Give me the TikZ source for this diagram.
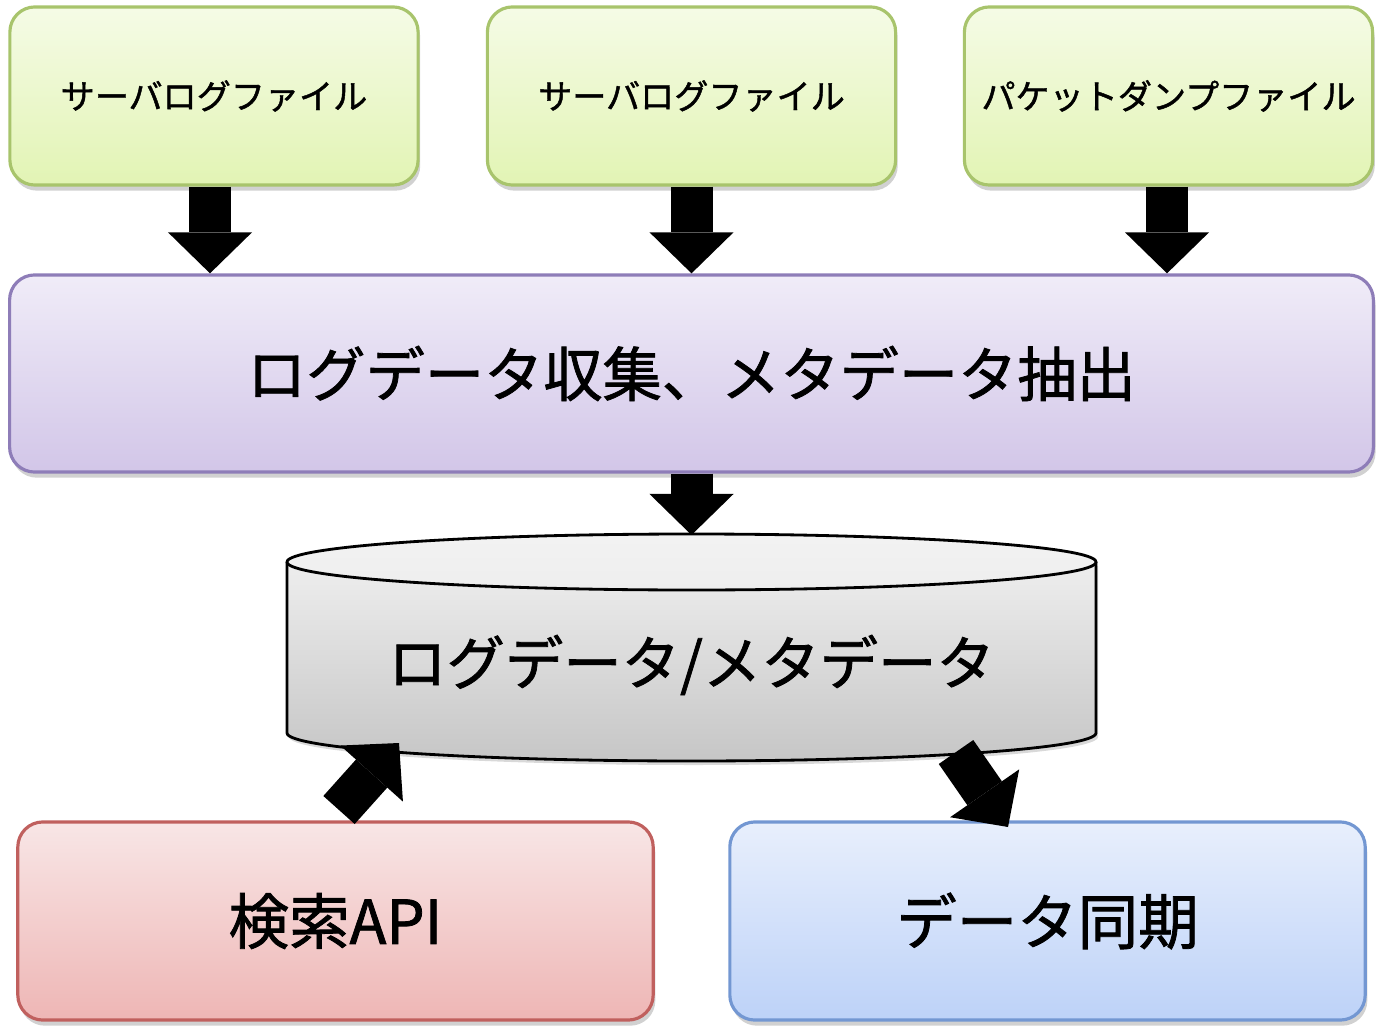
\documentclass[tikz,border=0pt]{standalone}
\usepackage{fontspec}
\newfontfamily\jp[FakeBold=1.3]{Noto Sans CJK JP}
\usetikzlibrary{arrows.meta,shadows,calc}
\definecolor{gTop}{HTML}{F5FBE6}
\definecolor{gBot}{HTML}{E2F4B4}
\definecolor{gLine}{HTML}{A8C46C}
\definecolor{pTop}{HTML}{F0ECF8}
\definecolor{pBot}{HTML}{D2C6E8}
\definecolor{pLine}{HTML}{8E7DB8}
\definecolor{rTop}{HTML}{F8E6E6}
\definecolor{rBot}{HTML}{EEB6B5}
\definecolor{rLine}{HTML}{C0605E}
\definecolor{bTop}{HTML}{E8EFFC}
\definecolor{bBot}{HTML}{BDD2F8}
\definecolor{bLine}{HTML}{7397D2}
\definecolor{cTop}{HTML}{EEEEEE}
\definecolor{cBot}{HTML}{C6C6C6}
\tikzset{
  box/.style={rounded corners=0.25cm, line width=0.9pt, inner sep=0pt,
    drop shadow={shadow xshift=0.6pt, shadow yshift=-1.6pt, opacity=0.18, fill=black},
    font=\jp},
  greenbox/.style={box, draw=gLine, top color=gTop, bottom color=gBot,
    minimum width=4.08cm, minimum height=1.78cm, font=\jp\fontsize{9.7}{11}\selectfont},
  bigarrow/.style={line width=0.42cm, line cap=butt, draw=black,
    -{Triangle[width=0.84cm,length=0.41cm,line width=0pt]}},
}
\begin{document}
\begin{tikzpicture}[x=0.01cm,y=0.01cm]
\useasboundingbox (0,0) rectangle (1383,-1031);
% top boxes
\node[greenbox] (g1) at (214,-96) {サーバログファイル};
\node[greenbox] (g2) at (691.5,-96) {サーバログファイル};
\node[greenbox] (g3) at (1168.5,-96) {パケットダンプファイル};
% purple box
\node[box, draw=pLine, top color=pTop, bottom color=pBot,
  minimum width=13.63cm, minimum height=1.97cm,
  font=\jp\fontsize{16.85}{20}\selectfont] (p) at (691.5,-373.5) {ログデータ収集、メタデータ抽出};
% bottom boxes
\node[box, draw=rLine, top color=rTop, bottom color=rBot,
  minimum width=6.35cm, minimum height=1.98cm,
  font=\jp\fontsize{17.2}{20}\selectfont] (api) at (335.5,-921) {検索API};
\node[box, draw=bLine, top color=bTop, bottom color=bBot,
  minimum width=6.35cm, minimum height=1.98cm,
  font=\jp\fontsize{17.2}{20}\selectfont] (sync) at (1047.5,-921) {データ同期};
% cylinder
\fill[black, opacity=0.15] (289,-566) -- (289,-737) arc[start angle=180,end angle=360,x radius=404.5,y radius=28] -- (1098,-566) -- cycle;
\fill[top color=cTop, bottom color=cBot] (287,-562) -- (287,-733)
  arc[start angle=180,end angle=360,x radius=404.5,y radius=28] -- (1096,-562) -- cycle;
\draw[line width=0.8pt] (287,-562) -- (287,-733)
  arc[start angle=180,end angle=360,x radius=404.5,y radius=28] -- (1096,-562);
\draw[line width=0.8pt, top color=white!95!black, bottom color=cTop] (691.5,-562) ellipse [x radius=404.5, y radius=28];
\coordinate (dbtop) at (691.5,-535);
\node[font=\jp\fontsize{16.6}{20}\selectfont, inner sep=0pt] (db) at (691.5,-665) {ログデータ/メタデータ};
% arrow end points
\coordinate (la1) at (339,-810);
\coordinate (la2) at (399,-743);
\coordinate (ra1) at (956,-752);
\coordinate (ra2) at (1008,-827);
% arrows
\draw[bigarrow] ($(g1.south)+(-4,0)$) -- ($(g1.south |- p.north)+(-4,0)$);
\draw[bigarrow] (g2.south) -- (g2.south |- p.north);
\draw[bigarrow] ($(g3.south)+(-1.5,0)$) -- ($(g3.south |- p.north)+(-1.5,0)$);
\draw[bigarrow] (p.south) -- (dbtop);
\draw[bigarrow] (la1) -- (la2);
\draw[bigarrow] (ra1) -- (ra2);
\end{tikzpicture}
\end{document}
